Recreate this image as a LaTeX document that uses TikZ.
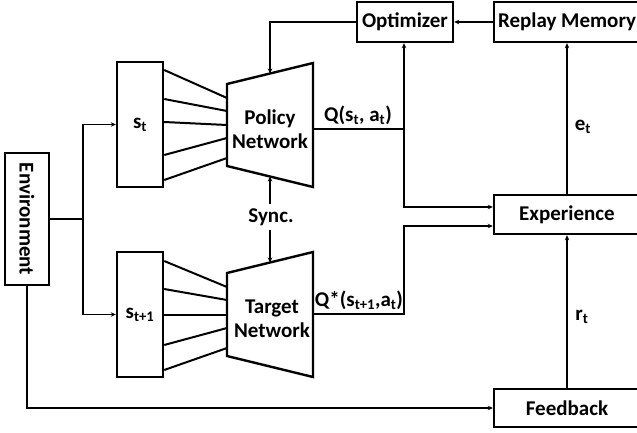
\documentclass[tikz,border=0pt]{standalone}
\usepackage{fontspec}
\setmainfont{Carlito}
\usetikzlibrary{arrows.meta}
\begin{document}
\begin{tikzpicture}[x=1pt,y=-1pt,
  font=\fontsize{21}{24}\selectfont\bfseries,
  box/.style={draw,line width=2.4pt,inner sep=0pt,minimum width=#1},
  conn/.style={line width=1.1pt,-{Stealth[length=5pt,width=4.5pt]}},
  plain/.style={line width=1.1pt},
  fan/.style={line width=2pt},
  trap/.style={draw,line width=2.4pt,line join=miter},
  lbl/.style={inner sep=0pt}]
\useasboundingbox (0,0) rectangle (637,432);
\clip (0,0) rectangle (637,432);
% boxes
\node[box=44pt,minimum height=132pt] (env) at (27,219) {\rotatebox{-90}{Environment}};
\node[box=46pt,minimum height=125pt] (st) at (140,124.5) {s\textsubscript{t}};
\node[box=46pt,minimum height=125pt] (stp) at (140,314.5) {s\textsubscript{t+1}};
\node[box=96pt,minimum height=40pt] (opt) at (405,22) {Optimizer};
\node[box=146pt,minimum height=40pt] (rep) at (567,22) {Replay Memory};
\node[box=146pt,minimum height=39pt] (exp) at (567,214.5) {Experience};
\node[box=146pt,minimum height=38pt] (fb) at (567,408) {Feedback};
% trapezoids
\coordinate (p1) at (227,84); \coordinate (p2) at (313,63);
\coordinate (p3) at (313,187); \coordinate (p4) at (227,166);
\draw[trap] (p1) -- (p2) -- (p3) -- (p4) -- cycle;
\node[lbl,align=center] (pol) at (270,129) {Policy\\Network};
\coordinate (t1) at (227,273); \coordinate (t2) at (313,252);
\coordinate (t3) at (313,377); \coordinate (t4) at (227,356);
\draw[trap] (t1) -- (t2) -- (t3) -- (t4) -- cycle;
\node[lbl,align=center] (tar) at (272,319) {Target\\Network};
% fan lines
\foreach \a/\b in {70/98,99/111,122/125,155/138,180/158}
  \draw[fan] (st.east |- 0,\a) -- (227,\b);
\foreach \a/\b in {261/287,289/300,315/315,345/328,370/348}
  \draw[fan] (stp.east |- 0,\a) -- (227,\b);
% connectors
\draw[conn] (rep.west) -- (opt.east);
\coordinate (ptop) at (270,73.5);
\draw[conn] (opt.west) -| (ptop);
\coordinate (qp) at (313,129);
\coordinate (qj) at (404,129);
\draw[plain] (qp) -- (qj);
\draw[conn] (qj) -- (opt.south -| qj);
\draw[conn] (qj) |- (exp.west |- 0,207);
\coordinate (qt) at (313,314);
\coordinate (qtj) at (404,314);
\draw[conn] (qt) -- (qtj) |- (exp.west |- 0,226);
\draw[conn] (exp.north) -- (rep.south);
\draw[conn] (fb.north) -- (exp.south);
\coordinate (ej) at (83,219);
\draw[plain] (env.east |- ej) -- (ej);
\draw[conn] (ej) |- (st.west);
\draw[conn] (ej) |- (stp.west);
\coordinate (eb) at (27,285);
\draw[conn] (eb) |- (fb.west);
% sync
\node[lbl] (sync) at (271,217) {Sync.};
\coordinate (pbot) at (270,176.5);
\coordinate (ttop) at (270,262.5);
\draw[conn] (sync.north -| pbot) ++(0,-4) -- (pbot);
\draw[conn] (sync.south -| ttop) ++(0,4) -- (ttop);
% labels
\node[lbl] (ql) at (358,115) {Q(s\textsubscript{t}, a\textsubscript{t})};
\node[lbl] (qsl) at (359,300) {Q*(s\textsubscript{t+1},a\textsubscript{t})};
\node[lbl] (el) at (583,127) {e\textsubscript{t}};
\node[lbl] (rl) at (582,317) {r\textsubscript{t}};
\end{tikzpicture}
\end{document}
